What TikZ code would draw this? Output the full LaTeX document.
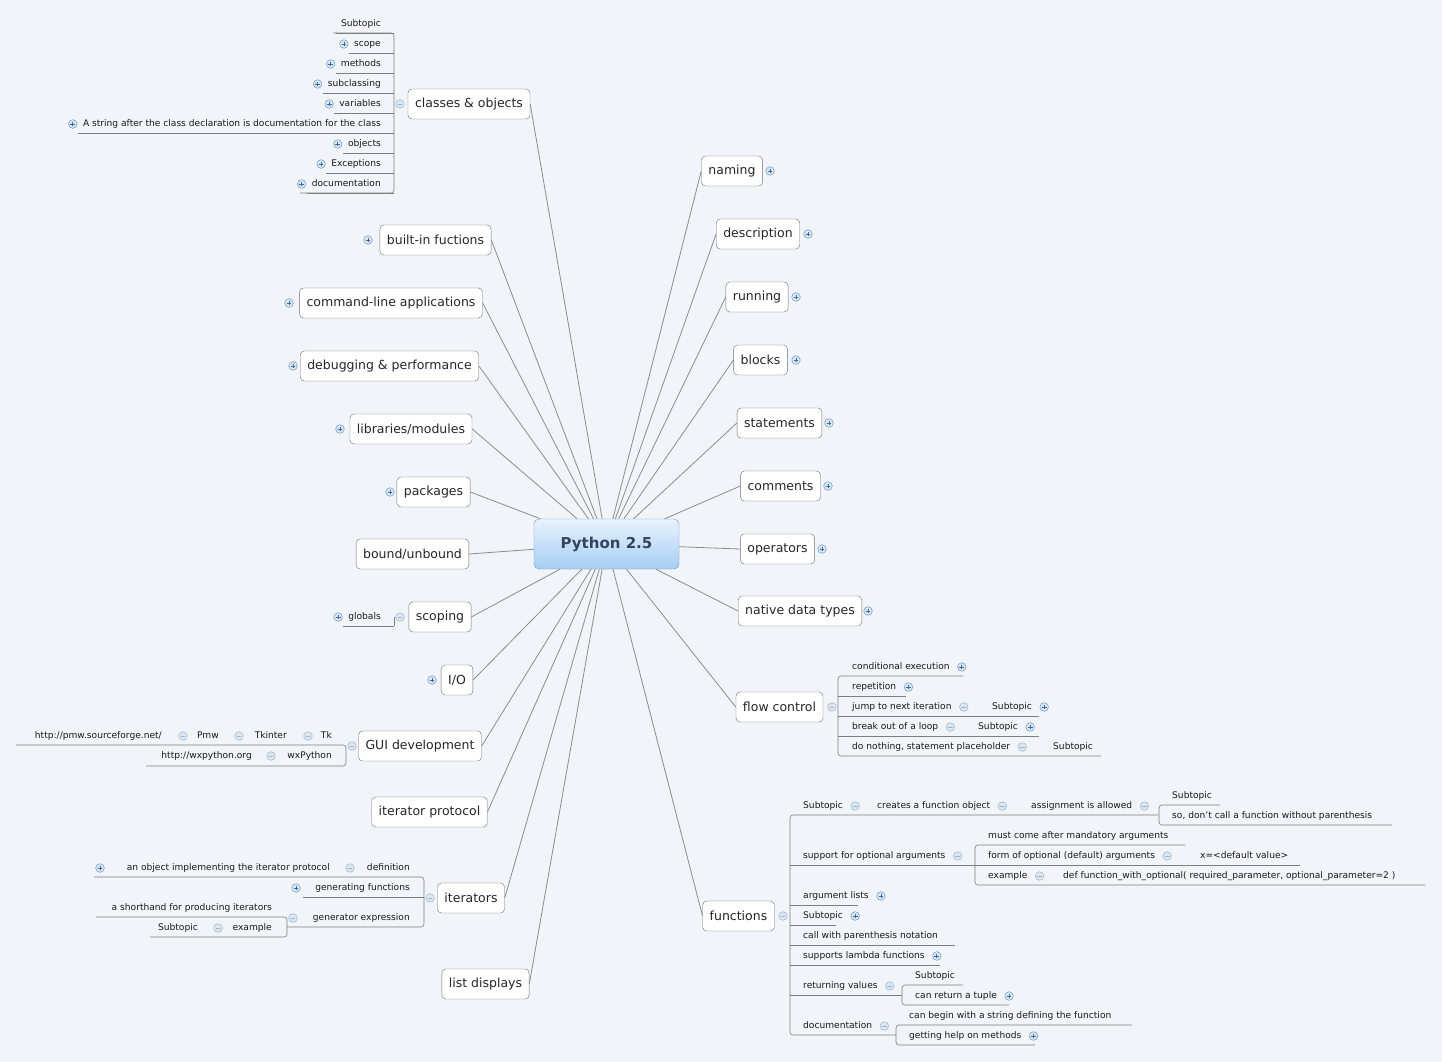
\documentclass[tikz,border=0pt]{standalone}
\usepackage{fontspec}
\setmainfont{DejaVu Sans}
\begin{document}
\begin{tikzpicture}[x=1pt,y=-1pt]
\definecolor{bg}{HTML}{F1F4F8}
\definecolor{ln}{HTML}{8C8C8C}
\definecolor{icf}{HTML}{D6E6F5}
\definecolor{icd}{HTML}{3E6C9C}
\definecolor{mif}{HTML}{DCE6F0}
\definecolor{mid}{HTML}{9DB4CC}
\definecolor{rtop}{HTML}{E8F3FD}
\definecolor{rbot}{HTML}{A6CDF3}
\definecolor{rbd}{HTML}{6F98C2}
\definecolor{rtx}{HTML}{33455E}
\tikzset{
 mn/.style={draw=ln!80!black,fill=white,rounded corners=4,inner xsep=7,minimum height=30,font=\fontsize{12.5}{14}\selectfont,text=black!85},
 st/.style={inner sep=0,font=\fontsize{9.1}{10}\selectfont,text=black!90,text height=7,text depth=2},
 conn/.style={draw=ln,line width=0.8},
 br/.style={draw=ln!90!black,line width=0.6},
 pp/.pic={\draw[fill=icf,draw=icd!70,line width=0.5] (0,0) circle (4.3); \draw[icd,line width=0.8] (-2.4,0)--(2.4,0) (0,-2.4)--(0,2.4);},
 mm/.pic={\draw[fill=mif,draw=mid,line width=0.5] (0,0) circle (4.3); \draw[mid,line width=0.8] (-2.4,0)--(2.4,0);},
 none/.pic={}
}
\newcommand\li[6]{%
 \node[st,anchor=east] (#1) at (#2,#3) {#5};
 \draw[br] (#1.west |- 0,#3+9) ++(-5,0) -- (#4,#3+9);
 \pic at ([xshift=-10pt]#1.west) {#6};}
\newcommand\ri[5]{%
 \node[st,anchor=west] (#1) at (#2,#3) {#4};
 \pic at ([xshift=12pt]#1.east) {#5};}
\newcommand\ic[3]{\pic at (#1,#2) {#3};}
\useasboundingbox (0,0) rectangle (1442,1062);
\fill[bg] (0,0) rectangle (1442,1062);

% root
\node[draw=rbd,rounded corners=5,top color=rtop,bottom color=rbot,minimum width=145,minimum height=50,font=\fontsize{15}{18}\selectfont\bfseries,text=rtx] (root) at (606.5,544) {Python 2.5};

% main nodes left
\node[mn] (classes) at (469,104) {classes \& objects};
\node[mn] (builtin) at (435.5,240) {built-in fuctions};
\node[mn] (cmdline) at (391,303) {command-line applications};
\node[mn] (debug) at (389.5,366) {debugging \& performance};
\node[mn] (libs) at (411,429) {libraries/modules};
\node[mn] (packages) at (433.5,492) {packages};
\node[mn] (bound) at (412.5,554) {bound/unbound};
\node[mn] (scoping) at (440,617) {scoping};
\node[mn] (io) at (457,680) {I/O};
\node[mn] (gui) at (420,746) {GUI development};
\node[mn] (iterprot) at (429.5,812) {iterator protocol};
\node[mn] (iterators) at (471,898) {iterators};
\node[mn] (listdisp) at (485.5,984) {list displays};
% main nodes right
\node[mn] (naming) at (732,171) {naming};
\node[mn] (descr) at (758,234) {description};
\node[mn] (running) at (757,297) {running};
\node[mn] (blocks) at (760.5,360) {blocks};
\node[mn] (stmts) at (779.5,423) {statements};
\node[mn] (comments) at (780.5,486) {comments};
\node[mn] (operators) at (777.5,549) {operators};
\node[mn] (native) at (800,611) {native data types};
\node[mn] (flow) at (779.5,707) {flow control};
\node[mn] (functions) at (738.5,916) {functions};

\foreach \n in {classes,builtin,cmdline,debug,libs,packages,bound,scoping,io,gui,iterprot,iterators,listdisp}
  \draw[conn] (root) -- (\n.east);
\foreach \n in {naming,descr,running,blocks,stmts,comments,operators,native,flow,functions}
  \draw[conn] (root) -- (\n.west);

% icons next to main nodes
\ic{770}{171}{pp} \ic{808}{234}{pp} \ic{796}{297}{pp} \ic{796}{360}{pp}
\ic{829}{423}{pp} \ic{828}{486}{pp} \ic{822}{549}{pp} \ic{868}{611}{pp}
\ic{368}{240}{pp} \ic{289}{303}{pp} \ic{293}{366}{pp} \ic{340}{429}{pp}
\ic{390}{492}{pp} \ic{432}{680}{pp}

% classes & objects
\draw[br,rounded corners=3] (333,33) -- (394,33) -- (394,193) -- (300,193);
\li{c1}{381}{24}{394}{Subtopic}{none}
\li{c2}{381}{44}{394}{scope}{pp}
\li{c3}{381}{64}{394}{methods}{pp}
\li{c4}{381}{84}{394}{subclassing}{pp}
\li{c5}{381}{104}{394}{variables}{pp}
\li{c6}{381}{124}{394}{A string after the class declaration is documentation for the class}{pp}
\li{c7}{381}{144}{394}{objects}{pp}
\li{c8}{381}{164}{394}{Exceptions}{pp}
\li{c9}{381}{184}{394}{documentation}{pp}
\ic{400}{104}{mm}

% scoping
\draw[br,rounded corners=3] (394,626) -- (394,617);
\li{g1}{381}{617}{394}{globals}{pp}
\ic{400}{617}{mm}

% GUI development
\draw[br,rounded corners=3] (16,745) -- (346,745) -- (346,766) -- (146,766);
\node[st,anchor=east] (tk) at (332,736) {Tk};
\node[st,anchor=east] (tkinter) at (287,736) {Tkinter};
\node[st,anchor=east] (pmw) at (219,736) {Pmw};
\node[st,anchor=east] (pmwurl) at (162,736) {http://pmw.sourceforge.net/};
\ic{308}{736}{mm} \ic{239}{736}{mm} \ic{183}{736}{mm}
\node[st,anchor=east] (wx) at (332,756) {wxPython};
\node[st,anchor=east] (wxurl) at (252,756) {http://wxpython.org};
\ic{271}{756}{mm}
\ic{352}{746}{mm}

% iterators
\draw[br,rounded corners=3] (94,877) -- (424,877) -- (424,927) -- (287,927);
\draw[br] (303,897) -- (424,897);
\node[st,anchor=east] (defn) at (410,868) {definition};
\node[st,anchor=east] (obj) at (330,868) {an object implementing the iterator protocol};
\ic{350}{868}{mm} \ic{100}{868}{pp}
\node[st,anchor=east] (genf) at (410,888) {generating functions};
\ic{296}{888}{pp}
\node[st,anchor=east] (genx) at (410,918) {generator expression};
\ic{293}{918}{mm}
\draw[br,rounded corners=3] (96,917) -- (287,917) -- (287,937) -- (150,937);
\node[st,anchor=east] (short) at (272,908) {a shorthand for producing iterators};
\node[st,anchor=east] (isub) at (198,928) {Subtopic};
\node[st,anchor=east] (iex) at (272,928) {example};
\ic{218}{928}{mm}
\ic{430}{898}{mm}

% flow control
\draw[br,rounded corners=3] (963,676) -- (838,676) -- (838,756) -- (1101,756);
\draw[br] (838,696) -- (906,696) (838,716) -- (1039,716) (838,736) -- (1039,736);
\ri{f1}{852}{667}{conditional execution}{pp}
\ri{f2}{852}{687}{repetition}{pp}
\ri{f3}{852}{707}{jump to next iteration}{mm}
\ri{f3s}{992}{707}{Subtopic}{pp}
\ri{f4}{852}{727}{break out of a loop}{mm}
\ri{f4s}{978}{727}{Subtopic}{pp}
\ri{f5}{852}{747}{do nothing, statement placeholder}{mm}
\ri{f5s}{1053}{747}{Subtopic}{none}
\ic{832}{707}{mm}

% functions
\draw[br,rounded corners=3] (1158,815) -- (790,815) -- (790,1035) -- (896,1035);
\draw[br] (790,865) -- (975,865) (790,905) -- (858,905) (790,925) -- (836,925)
  (790,945) -- (955,945) (790,965) -- (940,965) (790,995) -- (902,995);
\ri{u1}{803}{806}{Subtopic}{mm}
\ri{u2}{877}{806}{creates a function object}{mm}
\ri{u3}{1031}{806}{assignment is allowed}{mm}
\draw[br,rounded corners=3] (1220,805) -- (1159,805) -- (1159,825) -- (1392,825);
\ri{u4}{1172}{796}{Subtopic}{none}
\ri{u5}{1172}{816}{so, don't call a function without parenthesis}{none}
\ri{o1}{803}{856}{support for optional arguments}{mm}
\draw[br,rounded corners=3] (1185,845) -- (975,845) -- (975,885) -- (1425,885);
\draw[br] (975,865) -- (1300,865);
\ri{o2}{988}{836}{must come after mandatory arguments}{none}
\ri{o3}{988}{856}{form of optional (default) arguments}{mm}
\ri{o4}{1200}{856}{x=<default value>}{none}
\ri{o5}{988}{876}{example}{mm}
\ri{o6}{1063}{876}{def function\_with\_optional( required\_parameter, optional\_parameter=2 )}{none}
\ri{a1}{803}{896}{argument lists}{pp}
\ri{a2}{803}{916}{Subtopic}{pp}
\ri{a3}{803}{936}{call with parenthesis notation}{none}
\ri{a4}{803}{956}{supports lambda functions}{pp}
\ri{r1}{803}{986}{returning values}{mm}
\draw[br,rounded corners=3] (963,985) -- (902,985) -- (902,1005) -- (1009,1005);
\ri{r2}{915}{976}{Subtopic}{none}
\ri{r3}{915}{996}{can return a tuple}{pp}
\ri{d1}{803}{1026}{documentation}{mm}
\draw[br,rounded corners=3] (1132,1025) -- (896,1025) -- (896,1045) -- (1035,1045);
\ri{d2}{909}{1016}{can begin with a string defining the function}{none}
\ri{d3}{909}{1036}{getting help on methods}{pp}
\ic{783}{916}{mm}
\end{tikzpicture}
\end{document}
